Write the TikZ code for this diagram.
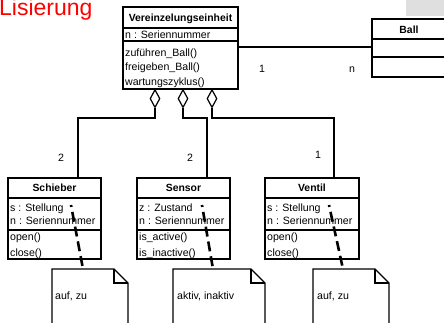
\documentclass[tikz,border=0pt]{standalone}
\usepackage{fontspec}
\setmainfont{Liberation Sans}
\usetikzlibrary{shapes.geometric}
\begin{document}
\begin{tikzpicture}[x=1pt,y=-1pt,
  box/.style={draw, line width=1.3pt, rectangle, anchor=north west, inner sep=0pt, outer sep=0pt},
  txt/.style={anchor=base west, inner sep=0pt, font=\fontsize{10.6}{12}\selectfont},
  ttl/.style={anchor=base, inner sep=0pt, font=\fontsize{10.4}{12}\selectfont\bfseries},
  lbl/.style={anchor=base, inner sep=0pt, font=\fontsize{10.6}{12}\selectfont},
  agg/.style={draw, diamond, line width=1.2pt, fill=white, minimum width=10pt, minimum height=18pt, inner sep=0pt, anchor=north},
  link/.style={line width=1.2pt},
  notebox/.style={anchor=north west, inner sep=0pt, outer sep=0pt},
  noteline/.style={line width=1.2pt, line join=miter},
  anchorline/.style={line width=2.6pt, dash pattern=on 10pt off 5pt, dash phase=8pt}
]
\useasboundingbox (0,0) rectangle (444,322);

% title fragment and grey patch
\node[anchor=base west, inner sep=0pt, text=red, font=\fontsize{23}{25}\selectfont] (hd) at (-1,15) {Lisierung};
\fill[gray!25] (406,0) rectangle (446,16);

% Vereinzelungseinheit
\node[box, minimum width=115pt, minimum height=21pt] (Vt) at (123,7) {};
\node[box, minimum width=115pt, minimum height=13pt] (Va) at (123,28) {};
\node[box, minimum width=115pt, minimum height=48pt] (Vm) at (123,41) {};
\node[ttl] at (180.5,21.2) {Vereinzelungseinheit};
\node[txt] at (125,38.5) {n : Seriennummer};
\node[txt] at (125,56) {zuführen\_Ball()};
\node[txt] at (125,70.5) {freigeben\_Ball()};
\node[txt] at (125,85) {wartungszyklus()};

% Ball
\node[box, minimum width=74pt, minimum height=20pt] (Bt) at (372,19) {};
\node[box, minimum width=74pt, minimum height=18pt] (Ba) at (372,39) {};
\node[box, minimum width=74pt, minimum height=20pt] (Bm) at (372,57) {};
\node[ttl] at (409,33) {Ball};

% association
\draw[link] (Vt.east |- 0,47) coordinate (va) -- (va -| Bt.west);
\node[lbl] at (262,72) {1};
\node[lbl] at (352,72) {n};

% Schieber
\node[box, minimum width=93pt, minimum height=20pt] (St) at (8,178) {};
\node[box, minimum width=93pt, minimum height=32pt] (Sa) at (8,198) {};
\node[box, minimum width=93pt, minimum height=29pt] (Sm) at (8,230) {};
\node[ttl] at (54.5,191.7) {Schieber};
\node[txt] at (10,211.5) {s : Stellung};
\node[txt] at (10,224) {n : Seriennummer};
\node[txt] at (10,240.5) {open()};
\node[txt] at (10,256.5) {close()};

% Sensor
\node[box, minimum width=93pt, minimum height=20pt] (Nt) at (137,178) {};
\node[box, minimum width=93pt, minimum height=32pt] (Na) at (137,198) {};
\node[box, minimum width=93pt, minimum height=29pt] (Nm) at (137,230) {};
\node[ttl] at (183.5,191.7) {Sensor};
\node[txt] at (139,211.5) {z : Zustand};
\node[txt] at (139,224) {n : Seriennummer};
\node[txt] at (139,240.5) {is\_active()};
\node[txt] at (139,256.5) {is\_inactive()};

% Ventil
\node[box, minimum width=94pt, minimum height=20pt] (Lt) at (265,178) {};
\node[box, minimum width=94pt, minimum height=32pt] (La) at (265,198) {};
\node[box, minimum width=94pt, minimum height=29pt] (Lm) at (265,230) {};
\node[ttl] at (312,191.7) {Ventil};
\node[txt] at (267,211.5) {s : Stellung};
\node[txt] at (267,224) {n : Seriennummer};
\node[txt] at (267,240.5) {open()};
\node[txt] at (267,256.5) {close()};

% aggregation diamonds
\node[agg] (d1) at (155,89) {};
\node[agg] (d2) at (183,89) {};
\node[agg] (d3) at (212,89) {};

\coordinate (j1) at (78,118);
\coordinate (j2) at (207,118);
\coordinate (j3) at (334,118);
\draw[link] (d1.south) |- (j1) -- (j1 |- St.north);
\draw[link] (d2.south) |- (j2) -- (j2 |- Nt.north);
\draw[link] (d3.south) |- (j3) -- (j3 |- Lt.north);
\node[lbl] at (61,161) {2};
\node[lbl] at (190,161) {2};
\node[lbl] at (318,158) {1};

% notes
\node[notebox, minimum width=76pt, minimum height=70pt] (n1) at (52,269) {};
\node[notebox, minimum width=92pt, minimum height=70pt] (n2) at (173,269) {};
\node[notebox, minimum width=76pt, minimum height=70pt] (n3) at (313,269) {};
\foreach \n in {n1,n2,n3}{
  \draw[noteline] (\n.north west) -- ([xshift=-14pt]\n.north east) -- ([yshift=-14pt]\n.north east) -- (\n.south east) -- (\n.south west) -- cycle;
  \draw[noteline] ([xshift=-14pt]\n.north east) -- ([xshift=-14pt,yshift=-14pt]\n.north east) -- ([yshift=-14pt]\n.north east);
}
\node[txt] at (55,299) {auf, zu};
\node[txt] at (177,299) {aktiv, inaktiv};
\node[txt] at (317,299) {auf, zu};

% note anchors
\coordinate (s1) at (71,205); \coordinate (e1) at (83,269);
\coordinate (s2) at (202,205); \coordinate (e2) at (213,269);
\coordinate (s3) at (329,205); \coordinate (e3) at (343,269);
\draw[anchorline] (s1) -- (e1);
\draw[anchorline] (s2) -- (e2);
\draw[anchorline] (s3) -- (e3);
\end{tikzpicture}
\end{document}
